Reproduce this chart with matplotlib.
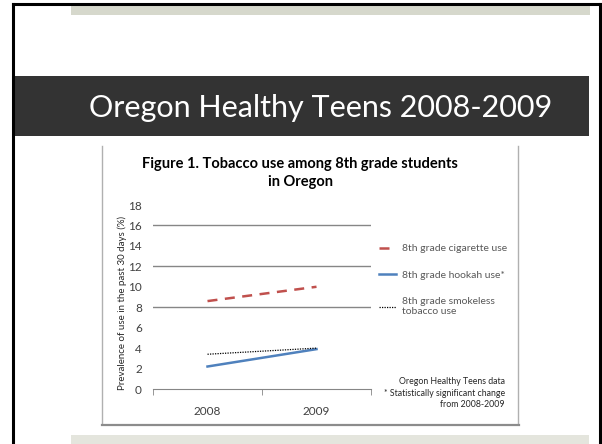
import matplotlib
matplotlib.use('Agg')
import matplotlib.pyplot as plt
from matplotlib.patches import Rectangle
from matplotlib.lines import Line2D

# data
years = ['2008', '2009']
cigarette = [8.6, 10.0]
hookah = [2.2, 3.9]
smokeless = [3.4, 4.0]
series_labels = ['8th grade cigarette use', '8th grade hookah use*',
                 '8th grade smokeless\ntobacco use']
yticks = list(range(0, 19, 2))
grid_levels = [8, 12, 16]

plt.rcParams['font.family'] = ['Lato', 'DejaVu Sans']

W, H = 602, 444
fig = plt.figure(figsize=(W / 100, H / 100), dpi=100)


def fx(x):
    return x / W


def fy(y):
    return 1 - y / H


def box(x0, y0, x1, y1, **kw):
    fig.add_artist(Rectangle((fx(x0), fy(y1)), fx(x1) - fx(x0), fy(y0) - fy(y1),
                             transform=fig.transFigure, lw=0, **kw))


def line(xs, ys, **kw):
    fig.add_artist(Line2D([fx(x) for x in xs], [fy(y) for y in ys],
                          transform=fig.transFigure, **kw))


# slide decoration
box(71, 4, 590, 15, color='#d6d8cc')
box(14, 76, 589, 136, color='#333333')
box(71, 435, 589, 444, color='#e4e5dd')
line([13, 13], [4, 444], color='black', lw=2.2)
line([13, 600], [4, 4], color='black', lw=2.2)
line([600, 600], [4, 444], color='black', lw=2.2)

fig.text(fx(321), fy(117), 'Oregon Healthy Teens 2008-2009', color='white',
         ha='center', va='baseline', fontsize=22, fontweight='normal')

# chart frame
line([102, 102], [146, 424], color='#b0b0b0', lw=1)
line([518, 518], [146, 424], color='#b0b0b0', lw=1)
line([102, 518.5], [424.5, 424.5], color='#8c8c8c', lw=1.6)

ax = fig.add_axes([fx(153), fy(389), fx(371) - fx(153), fy(205) - fy(389)])
x = range(len(years))
h1, = ax.plot(x, cigarette, color='#c0504d', lw=1.8, ls=(0, (4, 3)))
h2, = ax.plot(x, hookah, color='#4f81bd', lw=1.8)
h3, = ax.plot(x, smokeless, color='black', lw=0.9, ls=(0, (1, 1)))

for g in grid_levels:
    ax.axhline(g, color='#868686', lw=1, zorder=0)

ax.set_xlim(-0.5, len(years) - 0.5)
ax.set_ylim(0, 18)
ax.set_yticks(yticks)
ax.set_xticks(list(x), years)
ax.set_xticks([-0.5, 0.5, 1.5], minor=True)
ax.tick_params(axis='y', length=0, pad=8, labelsize=8.5, labelcolor='#404040')
ax.tick_params(axis='x', which='major', length=0, pad=12, labelsize=8.5,
               labelcolor='#404040')
ax.tick_params(axis='x', which='minor', length=4, color='#868686')
for s in ['left', 'right', 'top']:
    ax.spines[s].set_visible(False)
ax.spines['bottom'].set_color('#868686')
ax.patch.set_visible(False)

fig.text(fx(122), fy(303), 'Prevalence of use in the past 30 days (%)',
         rotation=90, ha='center', va='center', fontsize=7, color='#262626')

fig.text(fx(300), fy(173), 'Figure 1. Tobacco use among 8th grade students\nin Oregon',
         ha='center', va='center', fontsize=10.5, fontweight='bold',
         linespacing=1.35)

fig.legend([h1, h2, h3], series_labels, loc='upper left',
           bbox_to_anchor=(fx(379), fy(244)), frameon=False, fontsize=7.5,
           handlelength=1.6, handletextpad=0.6, labelspacing=1.65,
           labelcolor='#595959', borderpad=0, borderaxespad=0)

fig.text(fx(505), fy(393), 'Oregon Healthy Teens data\n* Statistically significant change\nfrom 2008-2009',
         ha='right', va='center', fontsize=6.3, linespacing=1.35, color='#262626')

fig.savefig('out.png', dpi=100)
